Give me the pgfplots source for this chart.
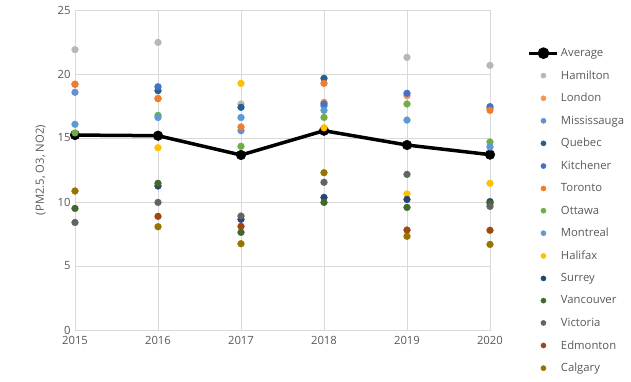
\documentclass[border=0pt]{standalone}
\usepackage{pgfplots}
\pgfplotsset{compat=1.18}
\usepackage{fontspec}
\setmainfont{Open Sans}
\definecolor{txt}{HTML}{595959}
\definecolor{grd}{HTML}{D9D9D9}
\definecolor{cHam}{HTML}{B7B7B7}
\definecolor{cLon}{HTML}{F1975A}
\definecolor{cMis}{HTML}{698ED0}
\definecolor{cQue}{HTML}{255E91}
\definecolor{cKit}{HTML}{4472C4}
\definecolor{cTor}{HTML}{ED7D31}
\definecolor{cOtt}{HTML}{70AD47}
\definecolor{cMon}{HTML}{5B9BD5}
\definecolor{cHal}{HTML}{FFC000}
\definecolor{cSur}{HTML}{264478}
\definecolor{cVan}{HTML}{43682B}
\definecolor{cVic}{HTML}{636363}
\definecolor{cEdm}{HTML}{9E480E}
\definecolor{cCal}{HTML}{997300}
\pgfplotsset{city/.style={only marks, mark=*, mark size=3.4pt, #1, mark options={draw=#1, fill=#1}}}
\begin{document}
\begin{tikzpicture}[x=1pt,y=1pt]
\useasboundingbox (0,0) rectangle (631,381);
\begin{axis}[
  at={(75pt,51pt)}, anchor=south west,
  scale only axis, width=415pt, height=320pt,
  xmin=2015, xmax=2020, ymin=0, ymax=25,
  xtick={2015,...,2020}, ytick={0,5,...,25},
  /pgf/number format/1000 sep={},
  /pgf/number format/assume math mode=true,
  grid=major, major grid style={grd, line width=0.8pt},
  axis line style={grd, line width=0.8pt},
  tick style={draw=none},
  ticklabel style={font=\fontsize{11.3}{13}\selectfont, text=txt},
  xticklabel style={yshift=-3pt},
  yticklabel style={xshift=-1pt},
  ylabel={(PM2.5, O3, NO2)},
  ylabel style={font=\fontsize{11.3}{13}\selectfont, text=txt, yshift=5pt},
  clip=false,
  legend cell align=left,
  legend style={at={(rel axis cs:1.091,0.887)}, anchor=north west, draw=none, fill=none,
    font=\fontsize{11.3}{13}\selectfont, text=txt, row sep=8.6pt, inner sep=0pt,
    /tikz/every even column/.append style={column sep=2pt}},
]
\addplot[black, line width=3.5pt, mark=*, mark size=4.8pt, mark options={line width=0.5pt}, sharp plot,
  legend image code/.code={\draw[black, line width=3pt] (0pt,0pt) -- (28pt,0pt); \fill[black] (14pt,0pt) circle (4pt);}]
  coordinates {(2015,15.23) (2016,15.18) (2017,13.67) (2018,15.57) (2019,14.45) (2020,13.7)};
\addlegendentry{Average}
\pgfplotsset{legend image code/.code={\fill (14pt,0pt) circle (2.6pt);}}
\addplot[city=cHam] coordinates {(2015,21.9) (2016,22.47) (2017,17.66) (2019,21.3) (2020,20.68)};
\addlegendentry{Hamilton}
\addplot[city=cLon] coordinates {(2015,19.2) (2016,18.1) (2018,17.79) (2019,18.3) (2020,17.3)};
\addlegendentry{London}
\addplot[city=cMis] coordinates {(2015,18.57) (2017,15.57) (2018,17.5)};
\addlegendentry{Mississauga}
\addplot[city=cQue] coordinates {(2016,18.7) (2017,17.4) (2018,19.66)};
\addlegendentry{Quebec}
\addplot[city=cKit] coordinates {(2016,19.0) (2018,17.66) (2019,18.49) (2020,17.45)};
\addlegendentry{Kitchener}
\addplot[city=cTor] coordinates {(2015,19.2) (2016,18.07) (2017,15.86) (2018,19.27) (2020,17.16)};
\addlegendentry{Toronto}
\addplot[city=cOtt] coordinates {(2015,15.4) (2016,16.77) (2017,14.35) (2018,16.61) (2019,17.66) (2020,14.69)};
\addlegendentry{Ottawa}
\addplot[city=cMon] coordinates {(2015,16.07) (2016,16.6) (2017,16.6) (2018,17.16) (2019,16.4) (2020,14.3)};
\addlegendentry{Montreal}
\addplot[city=cHal] coordinates {(2016,14.24) (2017,19.27) (2018,15.8) (2019,10.63) (2020,11.46)};
\addlegendentry{Halifax}
\addplot[city=cSur] coordinates {(2016,11.25) (2017,8.65) (2018,10.36) (2019,10.2) (2020,10.03)};
\addlegendentry{Surrey}
\addplot[city=cVan] coordinates {(2015,9.5) (2016,11.46) (2017,7.63) (2018,9.97) (2019,9.58) (2020,9.9)};
\addlegendentry{Vancouver}
\addplot[city=cVic] coordinates {(2015,8.4) (2016,9.97) (2017,8.9) (2018,11.54) (2019,12.16) (2020,9.66)};
\addlegendentry{Victoria}
\addplot[city=cEdm] coordinates {(2016,8.88) (2017,8.1) (2019,7.81) (2020,7.79)};
\addlegendentry{Edmonton}
\addplot[city=cCal] coordinates {(2015,10.86) (2016,8.07) (2017,6.74) (2018,12.29) (2019,7.32) (2020,6.69)};
\addlegendentry{Calgary}
\end{axis}
\end{tikzpicture}
\end{document}
